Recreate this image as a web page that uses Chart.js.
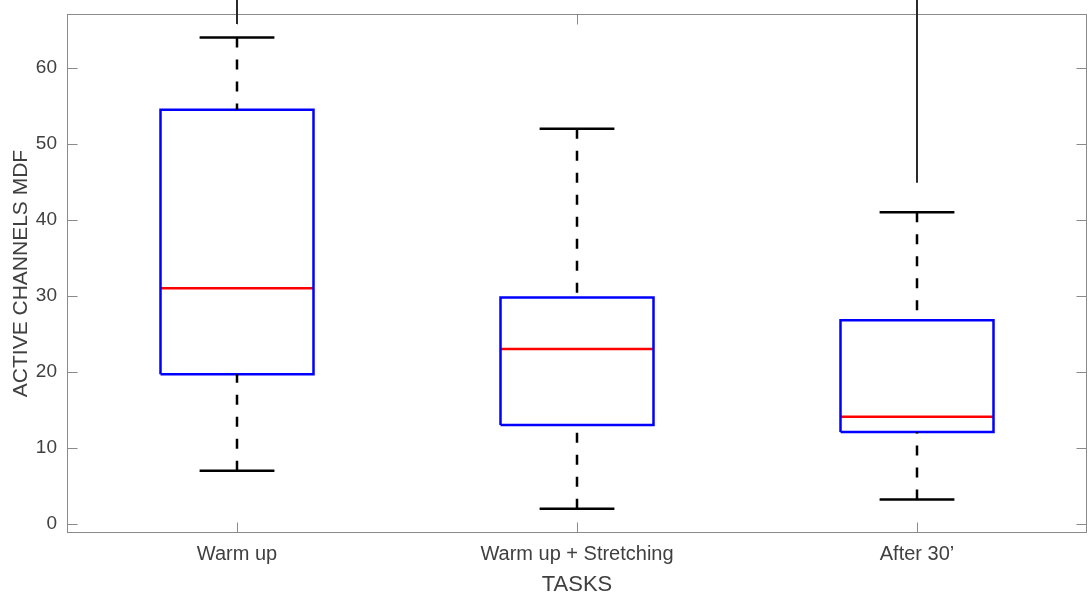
<!DOCTYPE html>
<html>
<head>
<meta charset="utf-8">
<script src="https://cdn.jsdelivr.net/npm/chart.js@4.4.1/dist/chart.umd.min.js"></script>
<style>
  html, body { margin: 0; padding: 0; background: #ffffff; }
  #wrap { width: 1088px; height: 594px; position: relative; }
</style>
</head>
<body>
<div id="wrap"><canvas id="c" width="1088" height="594"></canvas></div>
<script>
// ---- data ----
const categories = ['Warm up', 'Warm up + Stretching', 'After 30\u2019'];
const whiskerLow  = [7.0, 2.0, 3.2];
const q1          = [19.7, 13.0, 12.1];
const median      = [31.0, 23.0, 14.1];
const q3          = [54.5, 29.8, 26.8];
const whiskerHigh = [64.0, 52.0, 41.0];
// extra solid lines reaching above the axes (clipped outliers)
const extraFrom   = [65.8, null, 44.9];
const extraTo     = [70.0, null, 70.0];
const yTicks      = [0, 10, 20, 30, 40, 50, 60];
const yMin = -1.2, yMax = 67.1;

// ---- styles ----
const BOX_HALF = 0.225, CAP_HALF = 0.11;
const AXIS_COLOR = '#8a8a8a', TEXT_COLOR = '#404040';
const FONT = "'Liberation Sans', Arial, Helvetica, sans-serif";

const datasets = [];
function addLine(points, color, width, dash, clip) {
  datasets.push({
    data: points, borderColor: color, borderWidth: width, borderDash: dash || [],
    showLine: true, pointRadius: 0, pointHoverRadius: 0, fill: false, tension: 0,
    borderCapStyle: 'butt', borderJoinStyle: 'miter', clip: clip === false ? false : 5
  });
}
categories.forEach((c, i) => {
  const x = i + 1;
  // whiskers (dashed), drawn from the cap toward the box
  addLine([{x: x, y: whiskerHigh[i]}, {x: x, y: q3[i]}], '#000000', 2.5, [10, 12]);
  addLine([{x: x, y: whiskerLow[i]}, {x: x, y: q1[i]}], '#000000', 2.5, [10, 12]);
  // caps
  addLine([{x: x - CAP_HALF, y: whiskerHigh[i]}, {x: x + CAP_HALF, y: whiskerHigh[i]}], '#000000', 2.5);
  addLine([{x: x - CAP_HALF, y: whiskerLow[i]}, {x: x + CAP_HALF, y: whiskerLow[i]}], '#000000', 2.5);
  // box
  addLine([
    {x: x - BOX_HALF, y: q1[i]}, {x: x + BOX_HALF, y: q1[i]},
    {x: x + BOX_HALF, y: q3[i]}, {x: x - BOX_HALF, y: q3[i]},
    {x: x - BOX_HALF, y: q1[i]}
  ], '#0000ff', 2.5);
  // median
  addLine([{x: x - BOX_HALF, y: median[i]}, {x: x + BOX_HALF, y: median[i]}], '#ff0000', 2.5);
  // extra line
  if (extraFrom[i] !== null) {
    addLine([{x: x, y: extraFrom[i]}, {x: x, y: extraTo[i]}], '#2a2a2a', 2, [], false);
  }
});

const framePlugin = {
  id: 'frame',
  beforeDatasetsDraw(chart) {
    const ctx = chart.ctx, a = chart.chartArea;
    const xs = chart.scales.x, ys = chart.scales.y;
    ctx.save();
    ctx.strokeStyle = AXIS_COLOR;
    ctx.lineWidth = 1;
    const L = Math.round(a.left) + 0.5, R = Math.round(a.right) - 0.5;
    const T = Math.round(a.top) + 0.5, B = Math.round(a.bottom) - 0.5;
    ctx.strokeRect(L, T, R - L, B - T);
    const tl = 10;
    ctx.beginPath();
    ys.ticks.forEach(t => {
      const y = Math.round(ys.getPixelForValue(t.value)) + 0.5;
      ctx.moveTo(L, y); ctx.lineTo(L + tl, y);
      ctx.moveTo(R, y); ctx.lineTo(R - tl, y);
    });
    xs.ticks.forEach(t => {
      const x = Math.round(xs.getPixelForValue(t.value)) + 0.5;
      ctx.moveTo(x, B); ctx.lineTo(x, B - tl);
      ctx.moveTo(x, T); ctx.lineTo(x, T + tl);
    });
    ctx.stroke();
    ctx.restore();
  }
};

function zeroPad(s) { s.paddingTop = 0; s.paddingBottom = 0; s.paddingLeft = 0; s.paddingRight = 0; }

new Chart(document.getElementById('c'), {
  type: 'scatter',
  data: { datasets },
  plugins: [framePlugin],
  options: {
    responsive: false,
    animation: false,
    events: [],
    layout: { padding: { top: 14, right: 1, left: 0, bottom: 0 } },
    plugins: { legend: { display: false }, tooltip: { enabled: false } },
    scales: {
      x: {
        type: 'linear', min: 0.5, max: 3.5,
        afterBuildTicks: s => { s.ticks = categories.map((c, i) => ({ value: i + 1 })); },
        afterFit: s => { s.height = 61; zeroPad(s); },
        grid: { display: false, drawTicks: false },
        border: { display: false },
        ticks: {
          color: TEXT_COLOR, padding: 9, maxRotation: 0, autoSkip: false,
          font: { family: FONT, size: 20 },
          callback: v => categories[Math.round(v) - 1] || ''
        },
        title: {
          display: true, text: 'TASKS', color: TEXT_COLOR,
          font: { family: FONT, size: 22, lineHeight: 0.85 },
          padding: { top: 0, bottom: 0 }
        }
      },
      y: {
        type: 'linear', min: yMin, max: yMax,
        afterBuildTicks: s => { s.ticks = yTicks.map(v => ({ value: v })); },
        afterFit: s => { s.width = 67; zeroPad(s); },
        grid: { display: false, drawTicks: false },
        border: { display: false },
        ticks: {
          color: TEXT_COLOR, padding: 10,
          font: { family: FONT, size: 19 },
          callback: v => String(v)
        },
        title: {
          display: true, text: 'ACTIVE CHANNELS MDF', color: TEXT_COLOR,
          font: { family: FONT, size: 21, lineHeight: 1.2 },
          padding: { top: 9, bottom: 0 }
        }
      }
    }
  }
});
</script>
</body>
</html>
